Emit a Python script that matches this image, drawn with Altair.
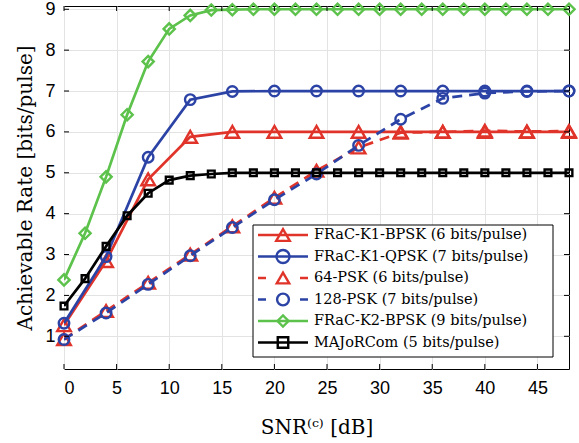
import altair as alt
import pandas as pd

# ---- data ----
snr_step2 = list(range(0, 50, 2))
snr_step4 = list(range(0, 50, 4))

rate_k1_bpsk = [1.27, 2.84, 4.84, 5.88, 6.0, 6.0, 6.0, 6.0, 6.0, 6.0, 6.0, 6.0, 6.0]
rate_k1_qpsk = [1.32, 2.95, 5.38, 6.79, 6.99, 7.0, 7.0, 7.0, 7.0, 7.0, 7.0, 7.0, 7.0]
rate_64psk = [0.93, 1.62, 2.31, 3.0, 3.69, 4.39, 5.05, 5.62, 5.98, 6.0, 6.03, 6.01, 6.02]
rate_128psk = [0.92, 1.57, 2.27, 2.97, 3.66, 4.34, 4.97, 5.67, 6.31, 6.82, 6.95, 6.99, 7.0]
rate_k2_bpsk = [2.38, 3.52, 4.90, 6.42, 7.72, 8.52, 8.85, 8.98, 8.99, 9.0, 9.0, 9.0, 9.0,
                9.0, 9.0, 9.0, 9.0, 9.0, 9.0, 9.0, 9.0, 9.0, 9.0, 9.0, 9.0]
rate_majorcom = [1.74, 2.41, 3.2, 3.95, 4.5, 4.82, 4.93, 4.97, 5.0, 5.0, 5.0, 5.0, 5.0,
                 5.0, 5.0, 5.0, 5.0, 5.0, 5.0, 5.0, 5.0, 5.0, 5.0, 5.0, 5.0]

labels = [
    "FRaC-K1-BPSK (6 bits/pulse)",
    "FRaC-K1-QPSK (7 bits/pulse)",
    "64-PSK (6 bits/pulse)",
    "128-PSK (7 bits/pulse)",
    "FRaC-K2-BPSK (9 bits/pulse)",
    "MAJoRCom (5 bits/pulse)",
]
series_x = [snr_step4, snr_step4, snr_step4, snr_step4, snr_step2, snr_step2]
series_y = [rate_k1_bpsk, rate_k1_qpsk, rate_64psk, rate_128psk, rate_k2_bpsk, rate_majorcom]

x_ticks = [0, 5, 10, 15, 20, 25, 30, 35, 40, 45]
y_ticks = [1, 2, 3, 4, 5, 6, 7, 8, 9]

# ---- styles ----
RED = "#e0342a"
BLUE = "#2c43a6"
GREEN = "#5cc24b"
BLACK = "#000000"
colors = [RED, BLUE, RED, BLUE, GREEN, BLACK]
shapes = ["triangle-up", "circle", "triangle-up", "circle", "diamond", "square"]
sizes = [185, 110, 185, 110, 125, 45]
dashes = [None, None, [10, 7], [10, 7], None, None]
legend_dashes = [[1, 0], [1, 0], [8, 34], [8, 34], [1, 0], [1, 0]]

W, H = 505, 363
xscale = alt.Scale(domain=[0, 48], nice=False, zero=False)
yscale = alt.Scale(domain=[0.2, 9.08], nice=False, zero=False)

SERIF = "DejaVu Serif"
SANS = "Liberation Sans"

xaxis = alt.Axis(values=x_ticks, title="SNR⁽ᶜ⁾ [dB]", grid=True, gridColor="#e3e3e3",
                 ticks=False, domain=False, labelFont=SANS, labelFontSize=18,
                 labelColor="black", labelPadding=10, titleFont=SERIF,
                 titleFontSize=20, titleFontWeight="normal", titleColor="black",
                 titlePadding=20)
yaxis = alt.Axis(values=y_ticks, title="Achievable Rate [bits/pulse]", grid=True,
                 gridColor="#e3e3e3", ticks=False, domain=False, labelFont=SANS,
                 labelFontSize=18, labelColor="black", labelPadding=9,
                 titleFont=SERIF, titleFontSize=20, titleFontWeight="normal",
                 titleColor="black", titlePadding=9)

layers = []
for i, lab in enumerate(labels):
    df = pd.DataFrame({"x": series_x[i], "y": series_y[i]})
    line_kwargs = dict(color=colors[i], strokeWidth=2.7, clip=True)
    if dashes[i] is not None:
        line_kwargs["strokeDash"] = dashes[i]
    base = alt.Chart(df).encode(
        x=alt.X("x:Q", scale=xscale, axis=xaxis),
        y=alt.Y("y:Q", scale=yscale, axis=yaxis),
    )
    layers.append(base.mark_line(**line_kwargs))
    layers.append(base.mark_point(shape=shapes[i], size=sizes[i], color=colors[i],
                                  filled=False, strokeWidth=2.4, opacity=1))

# inward ticks on all four sides
xt = pd.DataFrame({"x": x_ticks})
yt = pd.DataFrame({"y": y_ticks})
for y0, y1 in [(H, H - 5), (0, 5)]:
    layers.append(alt.Chart(xt).mark_rule(color="black", strokeWidth=1).encode(
        x=alt.X("x:Q", scale=xscale, axis=xaxis), y=alt.value(y0), y2=alt.value(y1)))
for x0, x1 in [(0, 5), (W, W - 5)]:
    layers.append(alt.Chart(yt).mark_rule(color="black", strokeWidth=1).encode(
        y=alt.Y("y:Q", scale=yscale, axis=yaxis), x=alt.value(x0), x2=alt.value(x1)))

main = alt.layer(*layers)

# ---- legend ----
leg_df = pd.DataFrame({"label": labels, "row": list(range(len(labels)))})
row_scale = alt.Scale(domain=[0, 5], range=[229, 336.5], nice=False, zero=False)
color_enc = alt.Color("label:N", scale=alt.Scale(domain=labels, range=colors), legend=None)

box = alt.Chart(pd.DataFrame({"a": [0]})).mark_rect(
    fill="white", stroke="black", strokeWidth=1).encode(
    x=alt.value(189), x2=alt.value(489), y=alt.value(219), y2=alt.value(351))

leg_base = alt.Chart(leg_df).encode(y=alt.Y("row:Q", scale=row_scale, axis=None))
leg_lines = leg_base.mark_rule(strokeWidth=2.7).encode(
    x=alt.value(194), x2=alt.value(244), color=color_enc,
    strokeDash=alt.StrokeDash("label:N", scale=alt.Scale(domain=labels, range=legend_dashes),
                              legend=None))
leg_pts = leg_base.mark_point(filled=False, strokeWidth=2.4, opacity=1).encode(
    x=alt.value(219), color=color_enc,
    shape=alt.Shape("label:N", scale=alt.Scale(domain=labels, range=shapes), legend=None),
    size=alt.Size("label:N", scale=alt.Scale(domain=labels, range=sizes), legend=None))
leg_txt = leg_base.mark_text(align="left", baseline="middle", font=SERIF, fontSize=14.5,
                             color="black").encode(x=alt.value(250), text="label:N")

legend = alt.layer(box, leg_lines, leg_pts, leg_txt)

chart = alt.layer(main, legend).resolve_scale(
    y="independent", color="independent", shape="independent",
    size="independent", strokeDash="independent"
).properties(
    width=W, height=H,
    autosize=alt.AutoSizeParams(type="none"),
    padding={"left": 64, "top": 6, "right": 10, "bottom": 74},
).configure_view(stroke="black", strokeWidth=1)

chart.save("out.html", embed_options={"renderer": "svg", "actions": False})
